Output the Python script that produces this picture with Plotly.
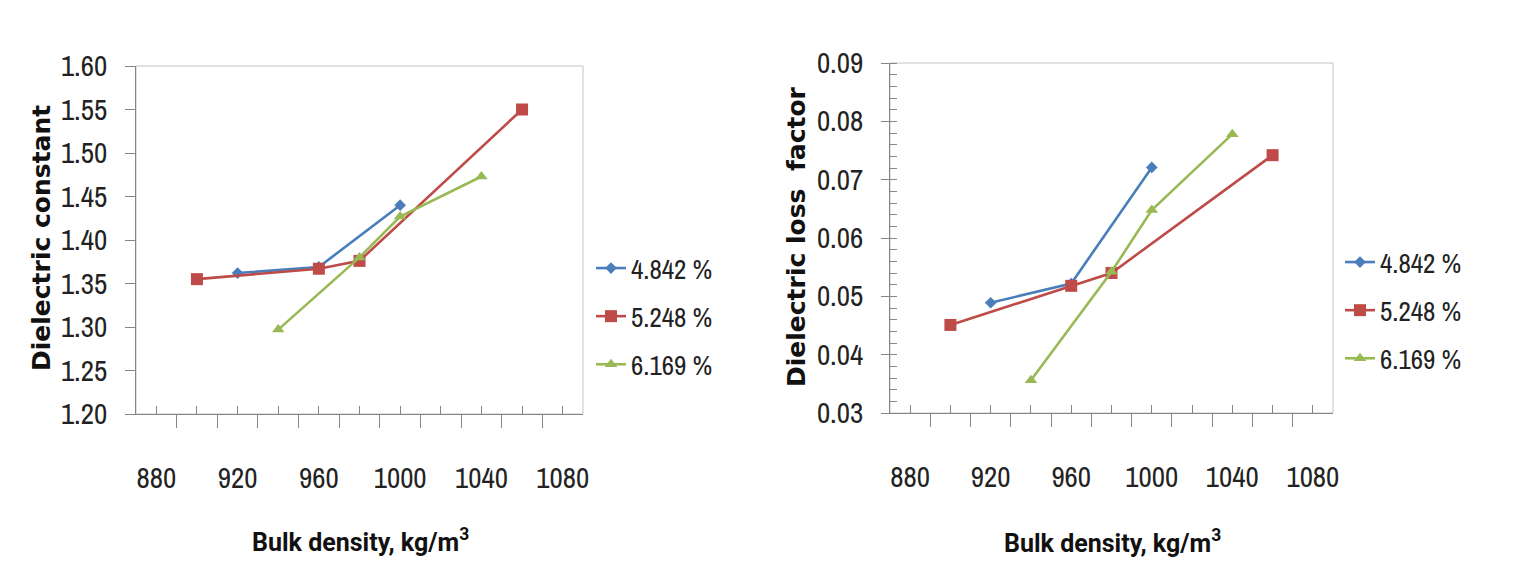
import plotly.graph_objects as go

# ---------------- data ----------------
series_names = ["4.842 %", "5.248 %", "6.169 %"]

# Left chart: dielectric constant
const_x_4842 = [920, 960, 1000]
const_y_4842 = [1.362, 1.369, 1.440]
const_x_5248 = [900, 960, 980, 1060]
const_y_5248 = [1.355, 1.367, 1.376, 1.550]
const_x_6169 = [940, 980, 1000, 1040]
const_y_6169 = [1.297, 1.380, 1.427, 1.473]

# Right chart: dielectric loss factor
loss_x_4842 = [920, 960, 1000]
loss_y_4842 = [0.0489, 0.0522, 0.0721]
loss_x_5248 = [900, 960, 980, 1060]
loss_y_5248 = [0.0451, 0.0518, 0.0540, 0.0742]
loss_x_6169 = [940, 980, 1000, 1040]
loss_y_6169 = [0.0356, 0.0542, 0.0648, 0.0778]

x_tick_vals = [880, 900, 920, 940, 960, 980, 1000, 1020, 1040, 1060, 1080]
x_tick_text = ["880", "", "920", "", "960", "", "1000", "", "1040", "", "1080"]

# ---------------- style ----------------
W, H = 1532, 575
colors = ["#4A7EBB", "#BE4B48", "#98B954"]
symbols = ["diamond", "square", "triangle-up"]
msizes = [9, 12, 11]
TICKFONT = dict(family="Archivo Narrow, Asap Condensed, sans-serif",
                size=29, color="#222222")
AXIS_C = "#868686"

fig = go.Figure()

left = [(const_x_4842, const_y_4842), (const_x_5248, const_y_5248), (const_x_6169, const_y_6169)]
right = [(loss_x_4842, loss_y_4842), (loss_x_5248, loss_y_5248), (loss_x_6169, loss_y_6169)]

for i, (xs, ys) in enumerate(left):
    fig.add_trace(go.Scatter(
        x=xs, y=ys, name=series_names[i], mode="lines+markers",
        line=dict(color=colors[i], width=2.6),
        marker=dict(symbol=symbols[i], size=msizes[i], color=colors[i]),
        xaxis="x", yaxis="y", legend="legend", legendgroup="L%d" % i))
for i, (xs, ys) in enumerate(right):
    fig.add_trace(go.Scatter(
        x=xs, y=ys, name=series_names[i], mode="lines+markers",
        line=dict(color=colors[i], width=2.6),
        marker=dict(symbol=symbols[i], size=msizes[i], color=colors[i]),
        xaxis="x2", yaxis="y2", legend="legend2", legendgroup="R%d" % i))


def px_x(p):
    return p / W


def px_y(p):
    return 1 - p / H


def xaxis_cfg(domain, anchor):
    return dict(
        domain=domain, anchor=anchor, range=[870, 1090], automargin=False,
        tickmode="array", tickvals=x_tick_vals, ticktext=x_tick_text,
        ticks="inside", ticklen=8, tickcolor=AXIS_C, tickwidth=1,
        minor=dict(tickmode="linear", tick0=870, dtick=20, ticks="outside",
                   ticklen=13, tickcolor=AXIS_C, tickwidth=1, showgrid=False),
        showline=True, linecolor=AXIS_C, linewidth=1,
        showgrid=False, zeroline=False, tickfont=TICKFONT,
        ticklabelstandoff=38, fixedrange=True)


legend_common = dict(
    font=dict(family=TICKFONT["family"], size=27, color="#222222"),
    bgcolor="rgba(0,0,0,0)", tracegroupgap=10,
    xanchor="left", yanchor="top", itemwidth=30)

fig.update_layout(
    width=W, height=H, autosize=False,
    margin=dict(l=0, r=0, t=0, b=0, autoexpand=False),
    paper_bgcolor="white", plot_bgcolor="white",
    xaxis=xaxis_cfg([px_x(136), px_x(583)], "y"),
    yaxis=dict(
        domain=[px_y(414), px_y(66)], anchor="x", range=[1.2, 1.6], automargin=False,
        tickmode="linear", tick0=1.2, dtick=0.05, tickformat=".2f",
        ticks="outside", ticklen=10, tickcolor=AXIS_C,
        showline=True, linecolor=AXIS_C, linewidth=1,
        showgrid=False, zeroline=False, tickfont=TICKFONT,
        ticklabelstandoff=12, fixedrange=True),
    xaxis2=xaxis_cfg([px_x(890), px_x(1333)], "y2"),
    yaxis2=dict(
        domain=[px_y(413), px_y(63)], anchor="x2", range=[0.03, 0.09], automargin=False,
        tickmode="linear", tick0=0.03, dtick=0.01, tickformat=".2f",
        ticks="outside", ticklen=8, tickcolor=AXIS_C,
        minor=dict(tickmode="linear", tick0=0.03, dtick=0.002, ticks="inside",
                   ticklen=7, tickcolor=AXIS_C, showgrid=False),
        showline=True, linecolor=AXIS_C, linewidth=1,
        showgrid=False, zeroline=False, tickfont=TICKFONT,
        ticklabelstandoff=12, fixedrange=True),
    legend=dict(x=px_x(591), y=px_y(244), **legend_common),
    legend2=dict(x=px_x(1340), y=px_y(238), **legend_common),
    showlegend=True,
)

# light plot-area border (top/right)
for xr, yr in [("x domain", "y domain"), ("x2 domain", "y2 domain")]:
    fig.add_shape(type="rect", xref=xr, yref=yr, x0=0, x1=1, y0=0, y1=1,
                  line=dict(color="#C4C4C4", width=1), layer="below")

TITLE_Y = dict(family="DejaVu Sans, Verdana, sans-serif", size=25, color="#111111")
TITLE_X = dict(family="Roboto, Arial, sans-serif", size=25, color="#111111")

fig.add_annotation(text="<b>Dielectric constant</b>", x=px_x(41), y=px_y(238),
                   xref="paper", yref="paper", textangle=-90, showarrow=False,
                   xanchor="center", yanchor="middle", font=TITLE_Y)
fig.add_annotation(text="<b>Dielectric loss  factor</b>", x=px_x(796), y=px_y(237),
                   xref="paper", yref="paper", textangle=-90, showarrow=False,
                   xanchor="center", yanchor="middle", font=TITLE_Y)
fig.add_annotation(text="<b>Bulk density, kg/m<sup>3</sup></b>", x=px_x(360), y=px_y(540),
                   xref="paper", yref="paper", showarrow=False,
                   xanchor="center", yanchor="middle", font=TITLE_X)
fig.add_annotation(text="<b>Bulk density, kg/m<sup>3</sup></b>", x=px_x(1112), y=px_y(541),
                   xref="paper", yref="paper", showarrow=False,
                   xanchor="center", yanchor="middle", font=TITLE_X)

fig.write_html("out.html", config={"displayModeBar": False})
